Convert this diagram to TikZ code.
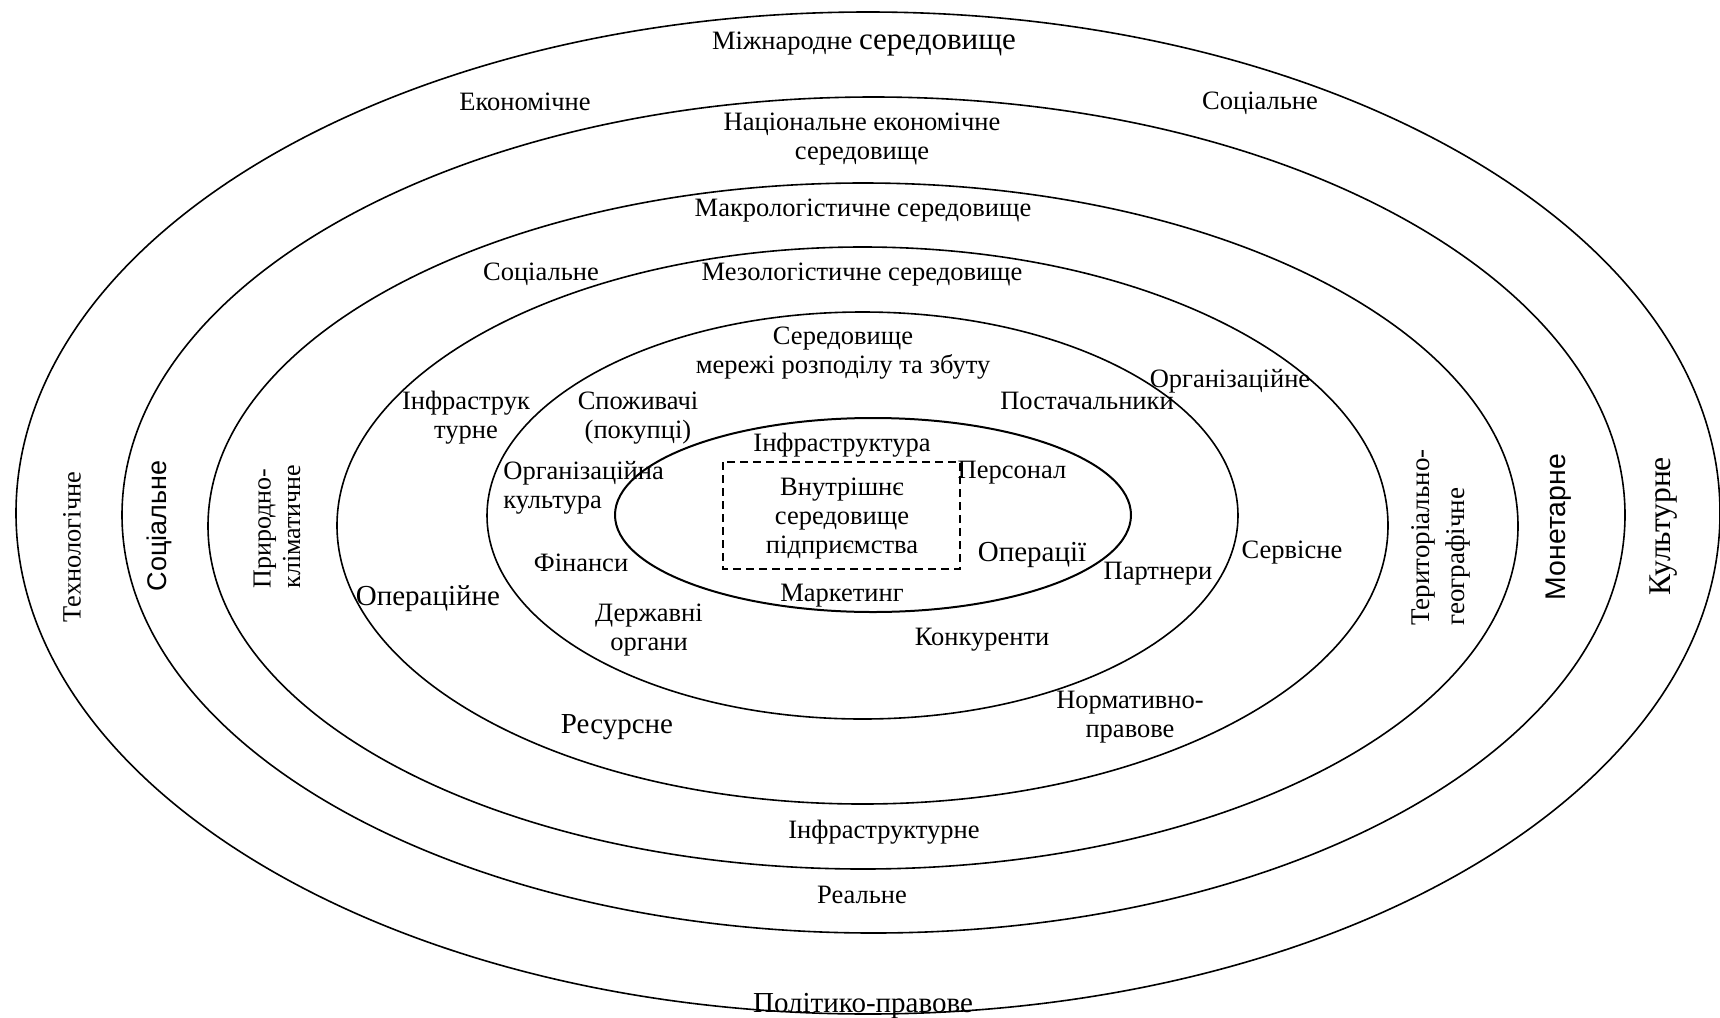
\documentclass[tikz,border=0pt]{standalone}
\usepackage{fontspec}
\setmainfont{Liberation Serif}
\newfontfamily\arialf{Liberation Sans}
\begin{document}
\begin{tikzpicture}[x=0.5pt,y=-0.5pt,
  ring/.style={line width=0.8pt},
  lbl/.style={font=\fontsize{13.25}{14.5}\selectfont, align=center, inner sep=0pt},
  big/.style={font=\fontsize{14.5}{16}\selectfont, align=center, inner sep=0pt},
  vlbl/.style={rotate=90, inner sep=0pt, font=\fontsize{13.5}{16.5}\selectfont},
  vsans/.style={rotate=90, inner sep=0pt, font=\arialf\fontsize{13.5}{16}\selectfont},
  box/.style={draw, dashed, dash pattern=on 4pt off 2.5pt, line width=0.8pt,
    minimum width=118.5pt, minimum height=53.5pt, inner sep=0pt, align=center,
    font=\fontsize{13.25}{14.3}\selectfont}]
\useasboundingbox (0,0) rectangle (1720,1018);
\fill[white] (0,0) rectangle (1720,1018);
% rings
\draw[ring] (868,513) ellipse [x radius=852, y radius=501];
\draw[ring] (873.5,515) ellipse [x radius=751.5, y radius=418];
\draw[ring] (863,526) ellipse [x radius=655, y radius=343];
\draw[ring] (862.5,525.5) ellipse [x radius=525.5, y radius=278.5];
\draw[ring] (862.5,515.5) ellipse [x radius=375.5, y radius=203.5];
\draw[ring, line width=1pt] (873,515) ellipse [x radius=258, y radius=97];
% inner box
\draw[box] (723,462) rectangle (960,569);
\node[lbl] (inner) at (842,519) {Внутрішнє\\середовище\\підприємства};
% labels
\node[lbl] (t1) at (864,44) {{\fontsize{13.25}{14}\selectfont Міжнародне} {\fontsize{15.5}{18}\selectfont середовище}};
\node[lbl] (t2) at (525,102) {Економічне};
\node[lbl] (t3) at (1260,103) {Соціальне};
\node[lbl] (t4) at (862,139.5) {Національне економічне\\середовище};
\node[lbl] (t5) at (863,210.5) {Макрологістичне середовище};
\node[lbl] (t6) at (862,275) {Мезологістичне середовище};
\node[lbl] (t7) at (541,274.5) {Соціальне};
\node[lbl] (t8) at (843,353) {Середовище\\мережі розподілу та збуту};
\node[lbl] (t9) at (466,417.5) {Інфраструк\\турне};
\node[lbl] (t10) at (638,418) {Споживачі\\(покупці)};
\node[lbl, align=left, anchor=west] (t11) at (503,487.5) {Організаційна\\культура};
\node[lbl] (t12) at (581,562.5) {Фінанси};
\node[big] (t13) at (428,599) {Операційне};
\node[lbl] (t14) at (649,630.5) {Державні\\органи};
\node[lbl] (t15) at (842,445.5) {Інфраструктура};
\node[lbl] (t16) at (1012,473) {Персонал};
\node[big] (t17) at (1032,555) {Операції};
\node[lbl] (t18) at (842,596) {Маркетинг};
\node[lbl] (t19) at (1087,400.5) {Постачальники};
\node[lbl] (t20) at (1230,381) {Організаційне};
\node[lbl] (t21) at (1292,553) {Сервісне};
\node[lbl] (t22) at (1158,574) {Партнери};
\node[lbl] (t23) at (982,640) {Конкуренти};
\node[lbl] (t24) at (1130,717) {Нормативно-\\правове};
\node[big] (t25) at (617,727) {Ресурсне};
\node[lbl] (t26) at (884,832) {Інфраструктурне};
\node[lbl] (t27) at (862,895) {Реальне};
\node[big] (t28) at (863,1006) {Політико-правове};
% vertical labels
\node[vlbl, font=\fontsize{13.2}{16}\selectfont] (t29) at (72,547) {Технологічне};
\node[vsans] (t30) at (159,526) {Соціальне};
\node[vlbl, align=left, anchor=west, font=\fontsize{13}{14.8}\selectfont] (t31) at (277,589) {Природно-\\кліматичне};
\node[vlbl, align=left, anchor=west, font=\fontsize{13.5}{17.5}\selectfont] (t32) at (1441,626) {Територіально-\\географічне};
\node[vsans, font=\arialf\fontsize{14.2}{16}\selectfont] (t33) at (1559,527) {Монетарне};
\node[vlbl, font=\fontsize{15.8}{17}\selectfont] (t34) at (1664,526) {Культурне};
\end{tikzpicture}
\end{document}
